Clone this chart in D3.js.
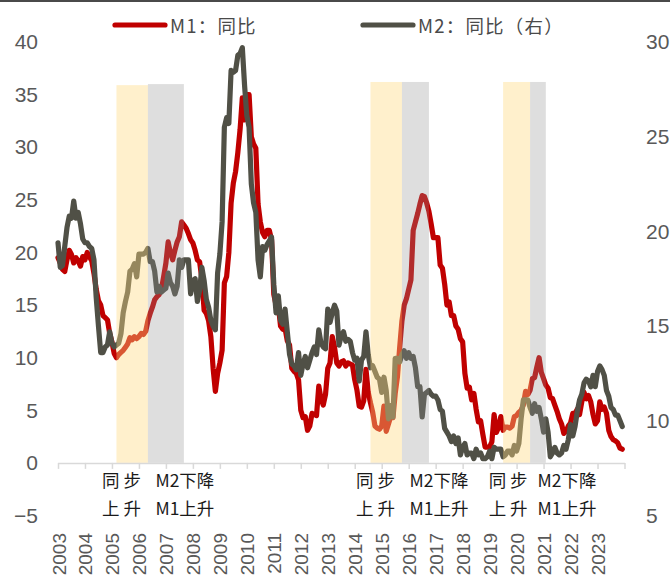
<!DOCTYPE html>
<html>
<head>
<meta charset="utf-8">
<script src="https://cdn.jsdelivr.net/npm/d3@7"></script>
<style>
  html, body { margin: 0; padding: 0; background: #fff; }
  svg { display: block; }
</style>
</head>
<body>
<div id="chart"></div>
<script>
// Monthly series, January 2003 – December 2023 (year-on-year growth, %)
const startYear = 2003;

const m1Yoy = [
  // 2003
  19.5, 19.0, 18.4, 18.2, 19.3, 20.2, 19.8, 19.0, 19.5, 19.2, 18.7, 19.6,
  // 2004
  19.3, 20.0, 19.6, 19.2, 18.0, 16.5, 15.4, 15.0, 14.0, 13.8, 13.6, 12.3,
  // 2005
  11.5, 10.4, 10.0, 10.3, 10.5, 10.7, 11.0, 11.3, 11.9, 11.7, 12.0, 11.8,
  // 2006
  12.0, 12.3, 12.2, 12.5, 13.5, 14.2, 14.8, 15.5, 15.8, 16.0, 16.5, 17.7,
  // 2007
  19.0, 21.0, 20.0, 19.3, 20.2, 21.0, 21.5, 22.9, 22.6, 22.3, 21.8, 21.2,
  // 2008
  20.9, 20.2, 19.3, 19.1, 17.5, 14.5, 14.2, 13.5, 12.0, 9.0, 6.8, 8.5,
  // 2009
  9.5, 10.7, 17.1, 17.7, 20.0, 24.7, 26.6, 27.7, 29.5, 31.7, 34.7, 32.6,
  // 2010
  35.0, 35.0, 31.0, 30.3, 29.9, 24.6, 22.9, 21.9, 21.5, 22.1, 22.1, 21.2,
  // 2011
  16.0, 15.0, 15.0, 13.0, 12.7, 12.8, 11.6, 11.2, 9.0, 8.7, 8.5, 7.9,
  // 2012
  5.0, 4.3, 4.4, 3.1, 3.5, 4.7, 4.6, 4.5, 7.3, 6.1, 5.5, 6.5,
  // 2013
  9.0, 9.5, 12.0, 11.0, 9.5, 9.2, 9.6, 9.7, 9.2, 9.5, 9.4, 9.3,
  // 2014
  7.9, 6.9, 5.4, 5.3, 5.9, 8.9, 6.7, 5.7, 4.8, 3.5, 3.3, 3.2,
  // 2015
  3.5, 5.4, 3.0, 3.7, 4.4, 4.3, 6.6, 8.2, 11.0, 13.5, 15.0, 15.6,
  // 2016
  16.5, 17.4, 22.1, 22.9, 23.7, 24.6, 25.4, 25.3, 24.7, 23.9, 22.7, 21.4,
  // 2017
  21.4, 21.4, 18.8, 18.5, 17.0, 15.0, 15.3, 14.0, 14.0, 13.0, 12.7, 11.8,
  // 2018
  11.5, 8.5, 7.1, 7.2, 6.0, 6.6, 5.1, 3.9, 4.0, 2.7, 1.5, 1.5,
  // 2019
  1.5, 2.0, 4.6, 2.9, 3.4, 4.4, 3.1, 3.4, 3.4, 3.3, 3.5, 4.4,
  // 2020
  4.5, 4.8, 5.0, 5.5, 6.8, 6.5, 6.9, 8.0, 8.1, 9.1, 10.0, 8.6,
  // 2021
  8.0, 7.4, 7.1, 6.2, 6.1, 5.5, 4.9, 4.2, 3.7, 2.8, 3.0, 3.5,
  // 2022
  3.8, 4.7, 4.7, 5.1, 4.6, 5.8, 6.7, 6.1, 6.4, 5.8, 4.6, 3.7,
  // 2023
  4.0, 5.8, 5.1, 5.3, 4.7, 3.1, 2.5, 2.2, 2.1, 1.9, 1.4, 1.3
];

const m2Yoy = [
  // 2003
  19.4, 18.1, 18.2, 19.2, 20.2, 20.8, 20.7, 21.6, 20.7, 21.0, 20.4, 19.6,
  // 2004
  19.4, 19.4, 19.2, 19.1, 18.5, 16.5, 15.0, 13.6, 13.6, 13.9, 14.0, 14.7,
  // 2005
  14.1, 13.9, 14.0, 14.1, 14.6, 15.7, 16.3, 16.8, 17.9, 18.0, 18.3, 17.6,
  // 2006
  18.8, 18.8, 18.8, 18.9, 19.1, 18.4, 18.4, 17.9, 16.8, 17.1, 16.8, 16.9,
  // 2007
  17.0, 17.8, 17.3, 17.1, 16.7, 17.1, 18.5, 18.1, 18.5, 18.5, 18.5, 16.7,
  // 2008
  17.4, 17.5, 16.3, 16.9, 18.1, 17.4, 16.4, 16.0, 15.3, 15.0, 14.8, 17.8,
  // 2009
  18.8, 20.5, 25.5, 26.0, 25.7, 28.5, 28.4, 28.5, 29.3, 29.4, 29.7, 27.7,
  // 2010
  26.1, 25.5, 22.5, 21.5, 21.0, 18.5, 17.6, 19.2, 19.0, 19.3, 19.5, 19.7,
  // 2011
  17.2, 15.7, 16.6, 15.3, 15.1, 15.9, 14.7, 13.5, 13.0, 12.9, 12.7, 13.6,
  // 2012
  12.4, 13.0, 13.4, 12.8, 13.2, 13.6, 13.9, 13.5, 14.8, 14.1, 13.9, 13.8,
  // 2013
  15.9, 15.2, 15.7, 16.1, 15.8, 14.0, 14.5, 14.7, 14.2, 14.3, 14.2, 13.6,
  // 2014
  13.2, 13.3, 12.1, 13.2, 13.4, 14.7, 13.5, 12.8, 12.9, 12.6, 12.3, 12.2,
  // 2015
  11.5, 12.3, 11.6, 10.1, 10.8, 10.2, 13.3, 13.3, 13.1, 13.5, 13.7, 13.3,
  // 2016
  13.6, 13.3, 13.4, 12.8, 11.8, 11.8, 10.2, 11.4, 11.5, 11.6, 11.4, 11.3,
  // 2017
  11.3, 11.1, 10.6, 10.5, 9.6, 9.4, 9.2, 8.9, 9.2, 8.8, 9.1, 8.2,
  // 2018
  8.6, 8.8, 8.2, 8.3, 8.3, 8.0, 8.5, 8.2, 8.3, 8.0, 8.0, 8.1,
  // 2019
  8.4, 8.0, 8.6, 8.5, 8.5, 8.5, 8.1, 8.2, 8.4, 8.4, 8.2, 8.7,
  // 2020
  8.4, 8.8, 10.1, 11.1, 11.1, 11.1, 10.7, 10.4, 10.9, 10.5, 10.7, 10.1,
  // 2021
  9.4, 10.1, 9.4, 8.1, 8.3, 8.6, 8.3, 8.2, 8.3, 8.7, 8.5, 9.0,
  // 2022
  9.8, 9.2, 9.7, 10.5, 11.1, 11.4, 12.0, 12.2, 12.1, 11.8, 12.4, 11.8,
  // 2023
  12.6, 12.9, 12.7, 12.4, 11.6, 11.3, 10.7, 10.6, 10.3, 10.3, 10.0, 9.7
];

// Phases: "同步上升" (both rising) and "M2下降 M1上升"
const phaseKinds = ["sync", "diverge", "sync", "diverge", "sync", "diverge"];
const phaseStart = ["2005-03", "2006-05", "2014-08", "2015-10", "2019-07", "2020-07"];
const phaseEnd   = ["2006-05", "2007-09", "2015-10", "2016-10", "2020-07", "2021-02"];
const phaseTop   = [35.9, 36.0, 36.2, 36.2, 36.2, 36.2];

const phaseLabelLine1 = ["同 步", "M2下降"];
const phaseLabelLine2 = ["上 升", "M1上升"];

const leftTicks  = [-5, 0, 5, 10, 15, 20, 25, 30, 35, 40];
const rightTicks = [5, 10, 15, 20, 25, 30];
const yearLabels = ["2003","2004","2005","2006","2007","2008","2009","2010","2011","2012",
                    "2013","2014","2015","2016","2017","2018","2019","2020","2021","2022","2023"];

const seriesNames = ["M1：同比", "M2：同比（右）"];

// ---------- drawing ----------
const W = 670, H = 577;
const RED = "#c00000", GREY = "#505046";
const AXIS_TXT = "#595959";
const numFont = "'Liberation Sans', Arial, sans-serif";
const cjkFont = "'Noto Sans CJK SC', 'Noto Sans', sans-serif";

const svg = d3.select("#chart").append("svg")
  .attr("width", W).attr("height", H)
  .attr("viewBox", `0 0 ${W} ${H}`);

// thin frame line along the top edge
svg.append("rect").attr("x", 0).attr("y", 0).attr("width", W).attr("height", 2).attr("fill", "#4a4a4a");

const monthIndex = s => { const [y, m] = s.split("-").map(Number); return (y - startYear) * 12 + (m - 1); };
const nMonths = m1Yoy.length;

const x = d3.scaleLinear().domain([0, nMonths]).range([58, 624.5]);
const yL = d3.scaleLinear().domain([-5, 40]).range([515.5, 42]);
const yR = d3.scaleLinear().domain([5, 30]).range([515.5, 42]);

// series lines
const lineL = d3.line().x((d, i) => x(i)).y(d => yL(d));
const lineR = d3.line().x((d, i) => x(i)).y(d => yR(d));

svg.append("path").datum(m1Yoy).attr("d", lineL)
  .attr("fill", "none").attr("stroke", RED).attr("stroke-width", 5.2)
  .attr("stroke-linejoin", "round").attr("stroke-linecap", "round");
svg.append("path").datum(m2Yoy).attr("d", lineR)
  .attr("fill", "none").attr("stroke", GREY).attr("stroke-width", 5.2)
  .attr("stroke-linejoin", "round").attr("stroke-linecap", "round");

// translucent phase bands on top of the lines
const phases = phaseKinds.map((k, i) => ({
  kind: k, s: monthIndex(phaseStart[i]), e: monthIndex(phaseEnd[i]), top: phaseTop[i]
}));
svg.append("g").selectAll("rect").data(phases).join("rect")
  .attr("x", d => x(d.s))
  .attr("width", d => x(d.e) - x(d.s))
  .attr("y", d => yL(d.top))
  .attr("height", d => yL(0) - yL(d.top))
  .attr("fill", d => d.kind === "sync" ? "#ffd97f" : "#919191")
  .attr("fill-opacity", d => d.kind === "sync" ? 0.4 : 0.3);

// bottom axis (category ticks every 12 months)
const xAxis = d3.axisBottom(x)
  .tickValues(d3.range(0, nMonths + 1, 12))
  .tickSize(6).tickSizeOuter(0).tickFormat("");
const gx = svg.append("g").attr("transform", `translate(0,${yL(0)})`).call(xAxis);
gx.select(".domain").attr("stroke", "#d9d9d9").attr("stroke-width", 1.5);
gx.selectAll(".tick line").attr("stroke", "#d9d9d9").attr("stroke-width", 1.5);

// rotated year labels
svg.append("g").selectAll("text").data(yearLabels).join("text")
  .attr("transform", (d, i) => `translate(${x(i * 12) + 1},533) rotate(-90)`)
  .attr("text-anchor", "end").attr("dominant-baseline", "central")
  .attr("font-family", numFont).attr("font-size", 19).attr("fill", AXIS_TXT)
  .text(d => d);

// left axis
const gl = svg.append("g").attr("transform", "translate(38,0)")
  .call(d3.axisLeft(yL).tickValues(leftTicks).tickSize(0).tickPadding(0)
    .tickFormat(d => d < 0 ? "\u2212" + Math.abs(d) : String(d)));
gl.select(".domain").remove();
gl.selectAll("text").attr("font-family", numFont).attr("font-size", 21).attr("fill", AXIS_TXT);

// right axis
const gr = svg.append("g").attr("transform", "translate(646,0)")
  .call(d3.axisRight(yR).tickValues(rightTicks).tickSize(0).tickPadding(0));
gr.select(".domain").remove();
gr.selectAll("text").attr("font-family", numFont).attr("font-size", 21).attr("fill", AXIS_TXT);

// phase labels under the axis
const labelData = [];
phases.forEach(p => {
  const isSync = p.kind === "sync";
  const cx = isSync ? x(p.s) + 5 : x(p.s) + 37;
  const k = isSync ? 0 : 1;
  labelData.push({ cx, y: 479, t: phaseLabelLine1[k] });
  labelData.push({ cx, y: 507, t: phaseLabelLine2[k] });
});
svg.append("g").selectAll("text").data(labelData).join("text")
  .attr("x", d => d.cx).attr("y", d => d.y)
  .attr("text-anchor", "middle").attr("dominant-baseline", "central")
  .attr("font-family", cjkFont).attr("font-size", 17.5).attr("fill", "#1a1a1a")
  .text(d => d.t);

// legend
const legend = svg.append("g");
const legendItems = [
  { name: seriesNames[0], color: RED, x0: 115 },
  { name: seriesNames[1], color: GREY, x0: 363 }
];
legendItems.forEach(it => {
  legend.append("line")
    .attr("x1", it.x0).attr("x2", it.x0 + 50).attr("y1", 25).attr("y2", 25)
    .attr("stroke", it.color).attr("stroke-width", 5.2).attr("stroke-linecap", "round");
  legend.append("text")
    .attr("x", it.x0 + 55).attr("y", 25)
    .attr("dominant-baseline", "central")
    .attr("font-family", cjkFont).attr("font-size", 18.5).attr("letter-spacing", 1.2)
    .attr("fill", "#4a4a4a")
    .text(it.name);
});
</script>
</body>
</html>
